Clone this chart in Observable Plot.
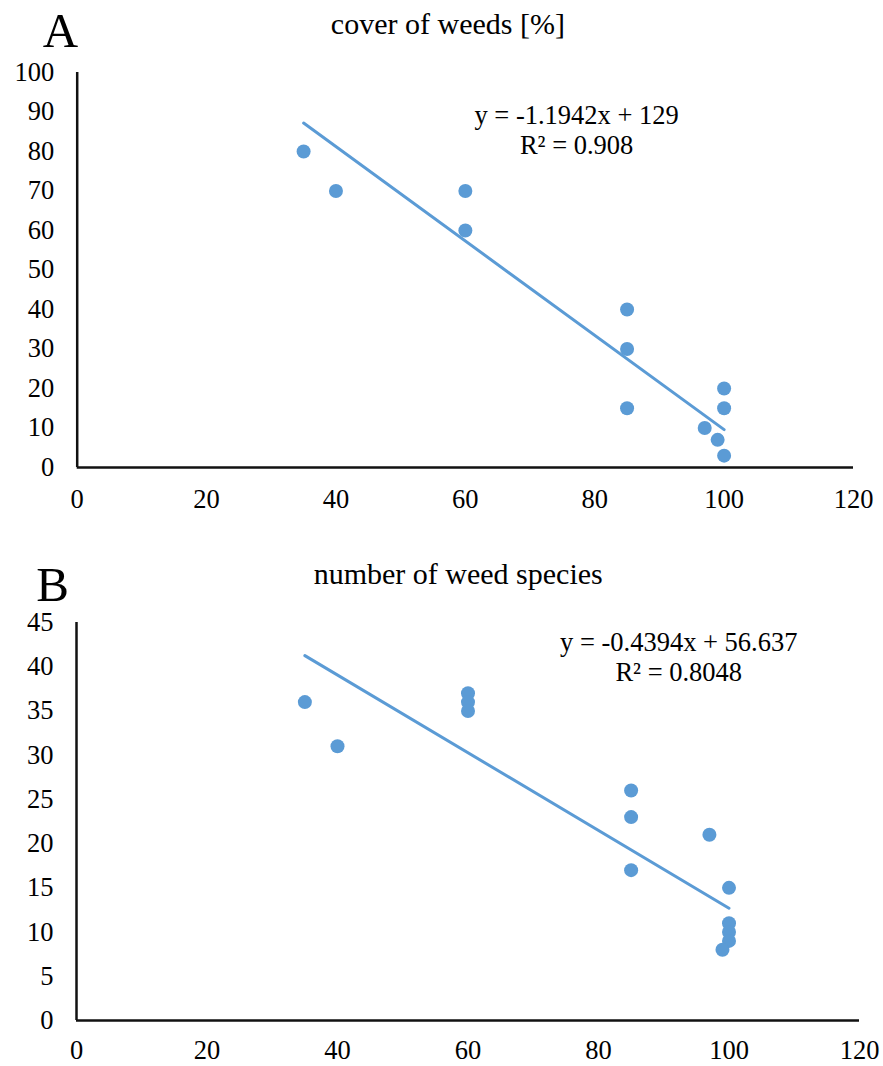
<!DOCTYPE html>
<html><head><meta charset="utf-8">
<script src="https://cdn.jsdelivr.net/npm/d3@7"></script>
<script src="https://cdn.jsdelivr.net/npm/@observablehq/plot@0.6"></script>
<style>body{margin:0;background:#fff;} svg{display:block} svg text{font-family:'Liberation Serif',serif;}</style>
</head><body><div id="chart"></div>
<script>
// ---- data ----
const xTicks = [0, 20, 40, 60, 80, 100, 120];

const coverTitle = "cover of weeds [%]";
const coverX = [35, 40, 60, 60, 85, 85, 85, 100, 100, 97, 99, 100];
const coverY = [80, 70, 70, 60, 40, 30, 15, 20, 15, 10, 7, 3];
const coverTicks = [0, 10, 20, 30, 40, 50, 60, 70, 80, 90, 100];
const coverFit = {slope: -1.1942, intercept: 129, from: 35, to: 100};
const coverEq = "y = -1.1942x + 129\nR² = 0.908";

const speciesTitle = "number of weed species";
const speciesX = [35, 40, 60, 60, 60, 85, 85, 85, 97, 100, 100, 100, 100, 99];
const speciesY = [36, 31, 37, 36, 35, 26, 23, 17, 21, 15, 11, 10, 9, 8];
const speciesTicks = [0, 5, 10, 15, 20, 25, 30, 35, 40, 45];
const speciesFit = {slope: -0.4394, intercept: 56.637, from: 35, to: 100};
const speciesEq = "y = -0.4394x + 56.637\nR² = 0.8048";

// ---- styles ----
const BLUE = "#5B9BD5";
const FONT = "'Liberation Serif', serif";
const TICK_FS = 26.5;

function panel(cfg) {
  const pts = cfg.xs.map((x, i) => ({x, y: cfg.ys[i]}));
  const fit = [cfg.fit.from, cfg.fit.to].map(x => ({x, y: cfg.fit.slope * x + cfg.fit.intercept}));
  return Plot.plot({
    width: 883,
    height: cfg.height,
    marginLeft: cfg.ml, marginRight: cfg.mr, marginTop: cfg.mt, marginBottom: cfg.mb,
    style: {fontFamily: FONT, fontSize: TICK_FS + "px", color: "#000", background: "#fff", overflow: "visible"},
    x: {domain: [0, 120]},
    y: {domain: cfg.ydomain},
    marks: [
      Plot.axisX({ticks: xTicks, tickSize: 0, tickPadding: cfg.xpad, label: null, fontSize: TICK_FS}),
      Plot.axisY({ticks: cfg.yticks, tickSize: 0, tickPadding: 23, label: null, fontSize: TICK_FS}),
      Plot.ruleX([0], {stroke: "#111", strokeWidth: 2.5}),
      Plot.ruleY([0], {stroke: "#111", strokeWidth: 2.5}),
      Plot.line(fit, {x: "x", y: "y", stroke: BLUE, strokeWidth: 3}),
      Plot.dot(pts, {x: "x", y: "y", r: 7, fill: BLUE, stroke: "none"}),
      Plot.text([cfg.eq], {x: cfg.eqX, y: cfg.eqY, text: d => d, fontSize: 26.5, lineHeight: 1.13, textAnchor: "middle", fill: "#000"}),
      Plot.text([cfg.title], {x: cfg.titleX, frameAnchor: "top", lineAnchor: "middle", dy: cfg.titleDy, text: d => d, fontSize: 30, textAnchor: "middle", fill: "#000"}),
      Plot.text([cfg.letter], {frameAnchor: "top-left", lineAnchor: "middle", textAnchor: "middle", dx: cfg.letterDx, dy: cfg.letterDy, text: d => d, fontSize: 49, fill: "#000"})
    ]
  });
}

const chart = document.getElementById("chart");
chart.append(panel({
  xs: coverX, ys: coverY, fit: coverFit, eq: coverEq, title: coverTitle, letter: "A",
  height: 540, ml: 76.7, mr: 30, mt: 72, mb: 73, xpad: 22,
  ydomain: [0, 100], yticks: coverTicks,
  eqX: 77.2, eqY: 85.6, titleX: 57.3, titleDy: -48.6, letterDx: -16.7, letterDy: -41
}));
chart.append(panel({
  xs: speciesX, ys: speciesY, fit: speciesFit, eq: speciesEq, title: speciesTitle, letter: "B",
  height: 526, ml: 76, mr: 24, mt: 82, mb: 46, xpad: 20,
  ydomain: [0, 45], yticks: speciesTicks,
  eqX: 92.3, eqY: 41.2, titleX: 58.5, titleDy: -48.6, letterDx: -24, letterDy: -37
}));
</script>
</body></html>
